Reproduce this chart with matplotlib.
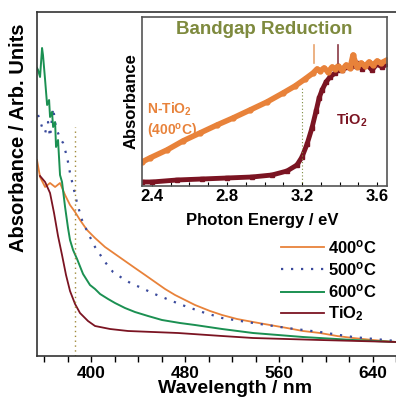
import numpy as np
import matplotlib
matplotlib.use("Agg")
import matplotlib.pyplot as plt
from matplotlib.ticker import MultipleLocator

plt.rcParams['font.family'] = ['Liberation Sans', 'DejaVu Sans']
plt.rcParams['font.weight'] = 'bold'
plt.rcParams['mathtext.default'] = 'regular'

# main spectra: wavelength (nm) vs absorbance (arb.)
wl_400 = [354.0, 356.6, 360.9, 365.1, 369.4, 373.6, 377.9, 382.1, 386.4, 390.6, 396.6,
          403.4, 411.9, 420.4, 428.9, 437.4, 446.0, 454.5, 463.0, 471.5, 480.0, 488.5,
          501.3, 511.5, 524.3, 537.9, 552.3, 566.8, 580.4, 594.9, 609.4, 623.0, 640.0, 659.6]
abs_400 = [196, 179, 169, 173, 169, 173, 161, 151, 144, 136, 126,
           118, 109, 102, 95, 88, 81, 74, 67, 61, 56, 51,
           45, 41, 37, 34, 31, 28, 25, 23, 20, 18, 16, 14]

wl_500 = [354.9, 358.3, 360.9, 363.4, 365.1, 367.7, 370.2, 373.6, 376.2, 379.6, 382.1,
          385.5, 388.1, 392.3, 397.4, 403.4, 411.9, 418.7, 426.4, 434.9, 443.4, 451.9,
          460.4, 477.4, 494.5, 511.5, 537.9, 566.8, 594.9, 623.0, 659.6]
abs_500 = [241, 229, 223, 234, 219, 248, 228, 218, 213, 199, 183,
           166, 153, 136, 123, 109, 94, 84, 78, 72, 68, 63,
           59, 51, 44, 38, 33, 28, 24, 19, 15]

wl_600 = [354.0, 354.9, 356.6, 358.3, 359.1, 360.9, 362.6, 364.3, 365.1, 366.8, 367.7,
          369.4, 370.2, 371.9, 373.6, 375.3, 377.9, 380.4, 382.1, 384.7, 388.1, 393.2,
          399.1, 403.4, 407.7, 414.5, 420.4, 428.9, 437.4, 448.5, 460.4, 475.7, 488.5,
          511.5, 537.9, 580.4, 623.0, 659.6]
abs_600 = [288, 286, 279, 308, 301, 276, 251, 256, 239, 244, 229,
           234, 209, 216, 181, 174, 149, 128, 116, 106, 97, 82,
           71, 67, 62, 57, 53, 48, 44, 40, 36, 33, 31,
           27, 23, 19, 16, 14]

wl_tio2 = [356.6, 360.9, 365.1, 368.5, 371.9, 375.3, 378.7, 382.1, 386.4, 390.6, 397.4,
           403.4, 416.2, 431.5, 474.0, 511.5, 537.9, 594.9, 659.6]
abs_tio2 = [180, 174, 163, 143, 120, 101, 81, 65, 52, 43, 35,
            30, 27, 25, 23, 20, 18, 16, 14]

edge_nm = 386.1
edge_top = 229

# inset: photon energy (eV) vs absorbance
ev_n = [2.347, 2.389, 2.480, 2.565, 2.656, 2.747, 2.832, 2.923, 3.013, 3.099, 3.163,
        3.216, 3.259, 3.280, 3.296, 3.317, 3.339, 3.360, 3.376, 3.392, 3.413, 3.435,
        3.456, 3.472, 3.493, 3.515, 3.536, 3.557, 3.579, 3.600, 3.621, 3.653]
abs_n = [24, 28, 36, 45, 53, 61, 68, 76, 84, 93, 100,
         107, 113, 117, 115, 118, 114, 119, 117, 120, 116, 121,
         118, 131, 119, 123, 120, 124, 121, 125, 123, 126]

ev_t = [2.347, 2.400, 2.533, 2.667, 2.800, 2.933, 3.040, 3.120, 3.173, 3.200, 3.227,
        3.253, 3.275, 3.291, 3.307, 3.328, 3.349, 3.376, 3.392, 3.413, 3.440, 3.467,
        3.493, 3.520, 3.547, 3.573, 3.600, 3.627, 3.653]
abs_t = [4, 4, 6, 7, 8, 9, 11, 15, 21, 29, 42,
         58, 75, 88, 96, 104, 109, 113, 116, 116, 119, 120,
         123, 117, 121, 116, 122, 119, 122]

c_400 = '#e8823a'
c_500 = '#3a4a9c'
c_600 = '#1b9052'
c_tio2 = '#7b1422'
c_olive = '#7e8a3e'

fig = plt.figure(figsize=(3.96, 4.03), dpi=100)
ax = fig.add_axes([37/396, 1-356/403, 363/396, 344/403])

ax.plot(wl_400, abs_400, color=c_400, lw=1.3, label='400$^{o}$C')
ax.plot(wl_500, abs_500, color=c_500, lw=1.6, ls=(0, (1, 3.5)), label='500$^{o}$C')
ax.plot(wl_600, abs_600, color=c_600, lw=1.4, label='600$^{o}$C')
ax.plot(wl_tio2, abs_tio2, color=c_tio2, lw=1.3, label='TiO$_2$')
ax.plot([edge_nm, edge_nm], [0, edge_top], color='#a08a3a', lw=1.0, ls=(0, (1, 2.5)))

ax.set_xlim(354, 663)
ax.set_ylim(0, 344)
ax.set_yticks([])
ax.xaxis.set_major_locator(MultipleLocator(80))
ax.xaxis.set_minor_locator(MultipleLocator(20))
ax.tick_params(axis='x', which='both', direction='out', length=4, width=1.0, labelsize=12.5, pad=3)
for s in ax.spines.values():
    s.set_linewidth(1.2)
    s.set_color('#333333')
ax.set_xlabel('Wavelength / nm', fontsize=14, fontweight='bold')
ax.xaxis.set_label_coords(0.545, -0.07)
ax.set_ylabel('Absorbance / Arb. Units', fontsize=14.5, fontweight='bold')
ax.yaxis.set_label_coords(-0.024, 0.634)

ax.legend(loc='upper left', bbox_to_anchor=(281/396, 1-238/403), bbox_transform=fig.transFigure,
          frameon=False, fontsize=12, handlelength=2.6, handletextpad=0.25,
          labelspacing=0.25, borderpad=0, borderaxespad=0)

# inset
ins = fig.add_axes([142/396, 1-186/403, 245/396, 169/403])
ins.plot(ev_t, abs_t, color=c_tio2, lw=3.5, marker='s', ms=3, markevery=1)
ins.plot(ev_n, abs_n, color=c_400, lw=4.0, marker='o', ms=3.5)
ins.axvline(3.2, ymax=0.58, color=c_olive, lw=0.8, ls=(0, (1, 2)))
ins.plot([3.264, 3.264], [123, 141], color='#e9a46e', lw=1.2)
ins.plot([3.392, 3.392], [123, 141], color='#8a3a44', lw=1.2)
ins.set_xlim(2.347, 3.653)
ins.set_ylim(0, 169)
ins.set_yticks([])
ins.xaxis.set_major_locator(MultipleLocator(0.4))
ins.xaxis.set_minor_locator(MultipleLocator(0.1))
ins.tick_params(axis='x', which='both', direction='in', length=3, width=0.8, labelsize=12, pad=2)
for s in ins.spines.values():
    s.set_linewidth(1.2)
    s.set_color('#555555')
ins.set_xlabel('Photon Energy / eV', fontsize=12, fontweight='bold')
ins.xaxis.set_label_coords(0.49, -0.16)
ins.set_ylabel('Absorbance', fontsize=12, fontweight='bold')
ins.yaxis.set_label_coords(-0.014, 0.5)
ins.text(0.5, 0.925, 'Bandgap Reduction', transform=ins.transAxes, ha='center', va='center',
         color=c_olive, fontsize=13.5, fontweight='bold')
ins.text(0.02, 0.385, 'N-TiO$_2$\n(400$^{o}$C)', transform=ins.transAxes, ha='left', va='center',
         color=c_400, fontsize=10, fontweight='bold', linespacing=1.3)
ins.text(0.79, 0.39, 'TiO$_2$', transform=ins.transAxes, ha='left', va='center',
         color=c_tio2, fontsize=10.5)

fig.savefig('out.png', dpi=100)
